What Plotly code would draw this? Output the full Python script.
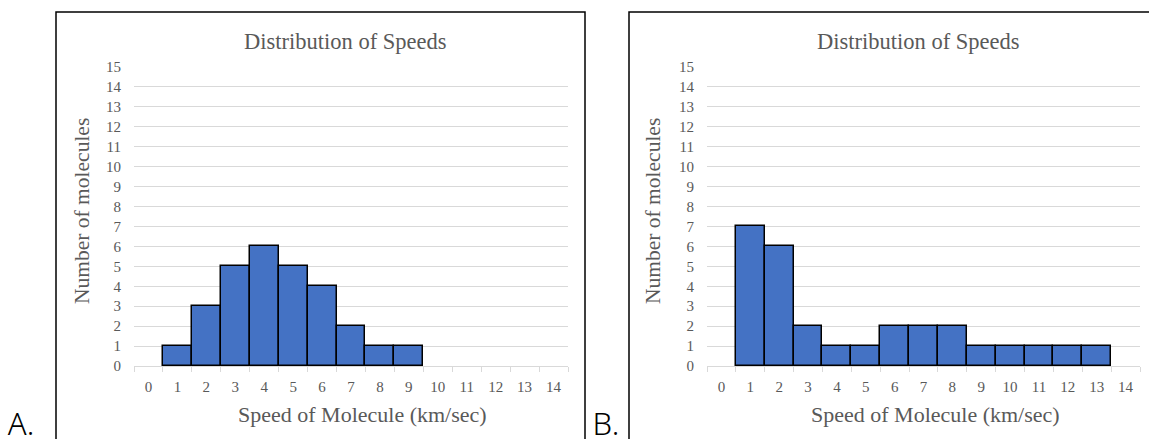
import plotly.graph_objects as go

# ---- data ----
speed_categories = list(range(0, 15))          # km/sec categories 0..14
speeds_a = [1, 2, 3, 4, 5, 6, 7, 8, 9]
counts_a = [1, 3, 5, 6, 5, 4, 2, 1, 1]
speeds_b = [1, 2, 3, 4, 5, 6, 7, 8, 9, 10, 11, 12, 13]
counts_b = [7, 6, 2, 1, 1, 2, 2, 2, 1, 1, 1, 1, 1]
y_ticks = list(range(0, 16))
chart_title = "Distribution of Speeds"
x_title = "Speed of Molecule (km/sec)"
y_title = "Number of molecules"
panel_labels = ["A.", "B."]

W, H = 1149, 439
BAR = "#4472C4"
GRID = "#d9d9d9"
TXT = "#595959"
SERIF = "Liberation Serif, Times New Roman, serif"

def px_x(p):
    return p / W

def px_y(p):
    return 1 - p / H

fig = go.Figure()
fig.add_trace(go.Bar(x=speeds_a, y=counts_a, width=1, marker=dict(color=BAR, line=dict(color="black", width=1.5)),
                     xaxis="x", yaxis="y", showlegend=False, hoverinfo="x+y"))
fig.add_trace(go.Bar(x=speeds_b, y=counts_b, width=1, marker=dict(color=BAR, line=dict(color="black", width=1.5)),
                     xaxis="x2", yaxis="y2", showlegend=False, hoverinfo="x+y"))

# panel labels drawn on a full-page overlay axis (pixel units) so they don't push margins
fig.add_trace(go.Scatter(x=[21, 606], y=[427, 427], mode="text", text=panel_labels,
                         textposition="middle center", cliponaxis=False, hoverinfo="skip",
                         textfont=dict(family="Noto Sans", size=31, color="black", weight=300),
                         xaxis="x3", yaxis="y3", showlegend=False))

ydom = [px_y(366), px_y(67)]

def xaxis(dom, anchor):
    return dict(domain=dom, anchor=anchor, range=[-0.5, 14.5], tickvals=speed_categories,
                ticktext=[str(c) for c in speed_categories], ticks="", showgrid=False,
                zeroline=False, showline=True, linecolor=GRID, linewidth=1,
                tickfont=dict(family=SERIF, size=15, color=TXT), ticklabelstandoff=7,
                minor=dict(ticks="outside", tick0=0.5, dtick=1, ticklen=5, tickcolor=GRID, tickwidth=1, showgrid=False),
                fixedrange=True)

def yaxis(anchor):
    return dict(domain=ydom, anchor=anchor, range=[0, 15], tickvals=y_ticks, showgrid=True,
                gridcolor=GRID, gridwidth=1, zeroline=False, showline=False, ticks="",
                tickfont=dict(family=SERIF, size=15, color=TXT), ticklabelstandoff=12,
                fixedrange=True)

fig.update_layout(
    width=W, height=H, margin=dict(l=0, r=0, t=0, b=0, autoexpand=False),
    paper_bgcolor="white", plot_bgcolor="rgba(0,0,0,0)", bargap=0,
    xaxis=xaxis([px_x(134), px_x(568)], "y"),
    yaxis=yaxis("x"),
    xaxis2=xaxis([px_x(707), px_x(1140)], "y2"),
    yaxis2=yaxis("x2"),
    xaxis3=dict(domain=[0, 1], anchor="y3", range=[0, W], visible=False, fixedrange=True, showgrid=False, zeroline=False),
    yaxis3=dict(domain=[0, 1], anchor="x3", range=[H, 0], visible=False, fixedrange=True, showgrid=False, zeroline=False),
)

# panel frames
fig.add_shape(type="rect", xref="paper", yref="paper", x0=px_x(56), x1=px_x(585), y0=-0.2, y1=px_y(12),
              line=dict(color="black", width=1.5), layer="below")
fig.add_shape(type="rect", xref="paper", yref="paper", x0=px_x(629), x1=px_x(1170), y0=-0.2, y1=px_y(12),
              line=dict(color="black", width=1.5), layer="below")

ann = []
for cx_title, cx_xt, cx_yt in [(345, 362, 82), (918, 935, 653)]:
    ann.append(dict(text=chart_title, x=px_x(cx_title), y=px_y(41), xref="paper", yref="paper",
                    showarrow=False, xanchor="center", yanchor="middle",
                    font=dict(family=SERIF, size=22.5, color=TXT)))
    ann.append(dict(text=x_title, x=px_x(cx_xt), y=px_y(414), xref="paper", yref="paper",
                    showarrow=False, xanchor="center", yanchor="middle",
                    font=dict(family=SERIF, size=22, color=TXT)))
    ann.append(dict(text=y_title, x=px_x(cx_yt), y=px_y(211), xref="paper", yref="paper",
                    showarrow=False, xanchor="center", yanchor="middle", textangle=-90,
                    font=dict(family=SERIF, size=21.5, color=TXT)))
fig.update_layout(annotations=ann)

fig.write_html("out.html")
